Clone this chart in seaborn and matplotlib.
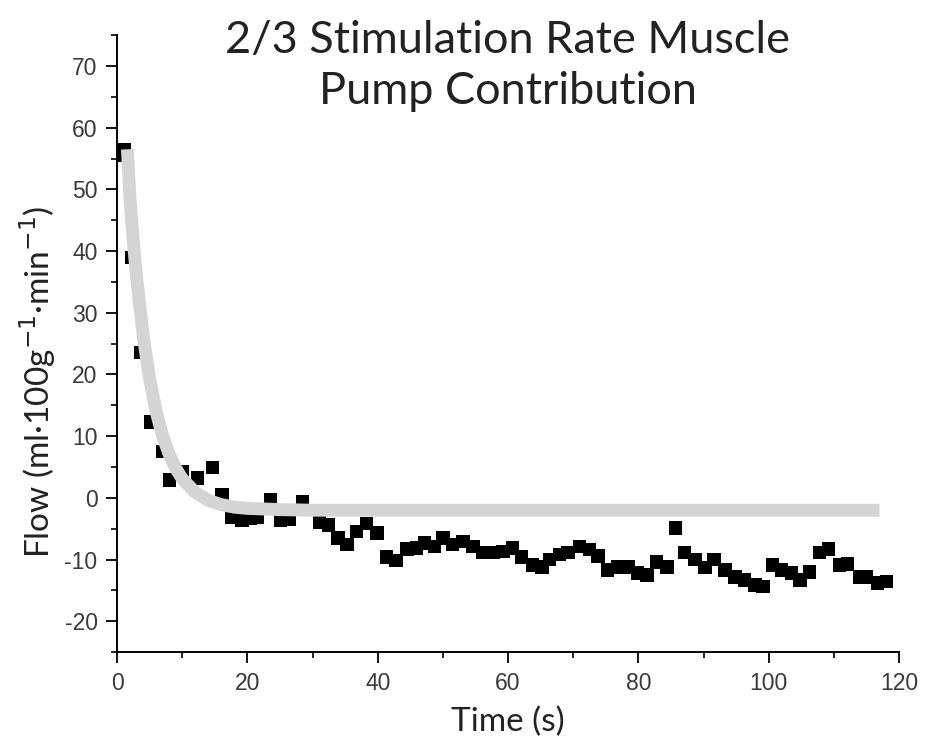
import matplotlib
matplotlib.use("Agg")
import matplotlib.pyplot as plt
import seaborn as sns
import pandas as pd
from matplotlib.ticker import MultipleLocator

# Measured data (time in s, flow)
time_s = [0.0, 1.2, 2.2, 3.7, 5.2, 7.0, 8.1, 10.1, 12.4, 14.6, 16.1, 17.6, 19.2, 20.5, 21.5, 23.6,
          25.1, 26.5, 28.5, 31.1, 32.4, 33.9, 35.3, 36.7, 38.3, 39.9, 41.4, 42.8, 44.5, 46.0,
          47.2, 48.7, 50.0, 51.5, 53.1, 54.6, 56.1, 57.7, 59.2, 60.7, 62.1, 63.7, 65.2, 66.4,
          67.9, 69.2, 71.0, 72.5, 73.8, 75.3, 76.8, 78.4, 79.9, 81.3, 82.8, 84.4, 85.7, 87.1,
          88.7, 90.2, 91.6, 93.3, 94.8, 96.3, 97.9, 99.1, 100.6, 102.0, 103.5, 104.8, 106.3,
          107.8, 109.2, 110.9, 112.1, 114.0, 115.0, 116.7, 118.1]
flow = [55.5, 56.5, 39.0, 23.6, 12.3, 7.5, 2.9, 4.2, 3.2, 4.9, 0.5, -3.1, -3.6, -3.3, -3.1, -0.3,
        -3.7, -3.5, -0.6, -3.9, -4.4, -6.5, -7.6, -5.5, -4.1, -5.7, -9.6, -10.2, -8.3, -8.1,
        -7.3, -7.9, -6.5, -7.6, -7.1, -7.9, -8.9, -8.9, -8.7, -8.1, -9.6, -10.9, -11.2, -10.0,
        -9.2, -8.9, -7.9, -8.4, -9.4, -11.7, -11.2, -11.2, -12.2, -12.5, -10.4, -11.2, -4.9, -8.9,
        -10.0, -11.3, -10.0, -11.7, -12.8, -13.3, -14.1, -14.4, -10.9, -11.7, -12.2, -13.3, -12.0,
        -8.9, -8.3, -10.9, -10.7, -12.8, -12.8, -13.8, -13.6]

# Fitted curve
fit_time = [1.6, 2.0, 2.5, 3.0, 4.0, 5.0, 6.0, 7.0, 8.0, 9.0, 10.0, 12.0, 14.0, 16.0, 18.0,
            20.0, 25.0, 30.0, 117.0]
fit_flow = [56.5, 48.3, 41.6, 35.8, 26.4, 19.3, 14.0, 10.0, 7.1, 4.8, 3.1, 0.9, -0.4, -1.1,
            -1.5, -1.7, -1.9, -2.0, -2.0]

x_ticks = [0, 20, 40, 60, 80, 100, 120]
y_ticks = [-20, -10, 0, 10, 20, 30, 40, 50, 60, 70]

title_line1 = "2/3 Stimulation Rate Muscle"
title_line2 = "Pump Contribution"
x_label = "Time (s)"
y_label = "Flow (ml\u00b7100g$^{-1}$\u00b7min$^{-1}$)"

sns.set_theme(style="ticks")
plt.rcParams["font.family"] = ["Liberation Sans", "DejaVu Sans"]
plt.rcParams["axes.unicode_minus"] = False

df = pd.DataFrame({"t": time_s, "flow": flow})
fit = pd.DataFrame({"t": fit_time, "flow": fit_flow})

fig = plt.figure(figsize=(9.25, 7.47), dpi=100)
ax = fig.add_axes([0.1265, 0.127, 0.8455, 0.826])

sns.scatterplot(data=df, x="t", y="flow", marker="s", s=92, color="black",
                edgecolor="none", linewidth=0, ax=ax, zorder=2)
sns.lineplot(data=fit, x="t", y="flow", color="#d4d4d4", linewidth=9.3, ax=ax,
             zorder=3, estimator=None, sort=False)
for ln in ax.get_lines():
    ln.set_solid_capstyle("butt")

ax.set_xlim(0, 120)
ax.set_ylim(-25, 75)
ax.set_xticks(x_ticks)
ax.set_yticks(y_ticks)
ax.xaxis.set_minor_locator(MultipleLocator(10))
ax.yaxis.set_minor_locator(MultipleLocator(5))
ax.tick_params(axis="both", which="major", direction="out", length=8, width=1.3,
               labelsize=16.5, colors="black", labelcolor="#3a3a3a", pad=6)
ax.tick_params(axis="both", which="minor", direction="out", length=4.5, width=1.2, colors="black")
for side in ["top", "right"]:
    ax.spines[side].set_visible(False)
for side in ["left", "bottom"]:
    ax.spines[side].set_linewidth(1.4)
    ax.spines[side].set_color("black")

ax.set_xlabel("")
ax.set_ylabel("")
tfam = ["Lato", "DejaVu Sans"]
fig.text(0.549, 0.929, title_line1, ha="center", va="baseline", fontsize=32.5, family=tfam,
         color="#222222")
fig.text(0.549, 0.861, title_line2, ha="center", va="baseline", fontsize=32.5, family=tfam,
         color="#222222")
fig.text(0.549, 0.033, x_label, ha="center", va="center", fontsize=24, family=tfam,
         color="#222222")
fig.text(0.041, 0.489, y_label, ha="center", va="center", rotation=90, fontsize=24,
         family=tfam, color="#222222")

fig.savefig("out.png", dpi=100, facecolor="white")
